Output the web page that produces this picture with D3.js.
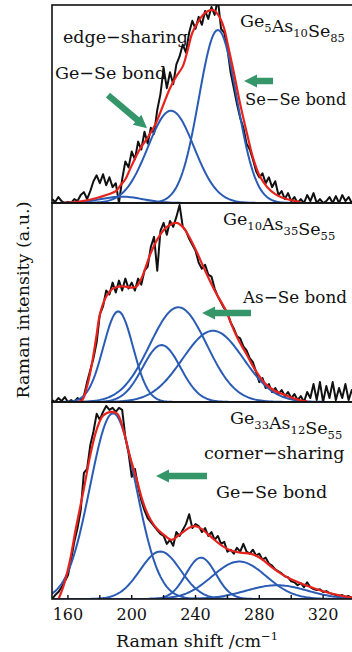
<!DOCTYPE html>
<html><head><meta charset="utf-8">
<script src="https://cdn.jsdelivr.net/npm/d3@7"></script>
<style>
body{margin:0;background:#fff;}
svg{display:block;}
text{font-family:"DejaVu Serif",serif;fill:#111;}
</style>
</head><body>
<svg id="c" width="352" height="652"></svg>
<script>
// ---------- DATA ----------
const shift = d3.range(150, 341, 2); // Raman shift sampling (cm-1)

const raw1 = [0.02,0.005,0.03,0.01,0.0,0.005,0.0,0.02,0.01,0.04,0.055,0.02,0.06,0.11,0.14,0.10,0.145,0.09,0.13,0.08,0.10,0.0,0.12,0.21,0.18,0.26,0.22,0.31,0.27,0.36,0.30,0.38,0.35,0.47,0.55,0.68,0.58,0.66,0.60,0.70,0.74,0.80,0.76,0.86,0.92,0.88,0.94,0.90,0.97,0.93,0.99,0.95,1.03,0.88,0.86,0.78,0.66,0.58,0.50,0.43,0.38,0.30,0.27,0.22,0.16,0.13,0.15,0.10,0.13,0.08,0.11,0.04,0.06,0.02,0.05,0.01,0.03,0.0,0.02,0.0,0.04,0.01,0.05,0.0,0.02,0.0,0.01,0.03,0.0,0.035,0.0,0.04,0.01,0.03,0.0,0.02];
const raw2 = [0.01,0.0,0.02,0.005,0.025,0.0,0.01,0.0,0.02,0.01,0.03,0.10,0.16,0.22,0.30,0.44,0.48,0.56,0.54,0.60,0.55,0.61,0.56,0.62,0.57,0.60,0.56,0.62,0.59,0.66,0.68,0.78,0.83,0.66,0.86,0.90,0.84,0.91,0.88,0.93,0.99,0.88,0.86,0.82,0.79,0.76,0.70,0.67,0.69,0.64,0.63,0.57,0.53,0.50,0.47,0.45,0.40,0.37,0.33,0.32,0.28,0.26,0.22,0.20,0.15,0.10,0.12,0.07,0.09,0.05,0.07,0.04,0.06,0.03,0.05,0.02,0.04,0.01,0.03,0.0,0.05,0.02,0.09,0.01,0.10,0.0,0.08,0.02,0.10,0.01,0.07,0.02,0.09,0.01,0.06,0.02];
const raw3 = [0.0,0.02,0.035,0.06,0.09,0.12,0.20,0.29,0.36,0.45,0.64,0.66,0.78,0.85,0.94,0.91,0.95,0.98,0.96,0.97,0.95,0.97,0.96,0.82,0.74,0.62,0.66,0.57,0.50,0.45,0.41,0.39,0.37,0.35,0.33,0.32,0.28,0.30,0.27,0.34,0.32,0.35,0.38,0.43,0.36,0.38,0.37,0.34,0.36,0.32,0.34,0.30,0.32,0.28,0.29,0.24,0.25,0.23,0.26,0.24,0.28,0.24,0.23,0.25,0.22,0.23,0.20,0.21,0.18,0.17,0.15,0.14,0.13,0.115,0.11,0.09,0.085,0.07,0.08,0.06,0.085,0.06,0.05,0.045,0.05,0.035,0.04,0.03,0.025,0.02,0.015,0.02,0.01,0.015,0.005,0.01];

const fit1 = [[155,0],[165,0.005],[173,0.015],[180,0.03],[186,0.045],[190,0.06],[193,0.09],[196,0.12],[200,0.19],[205,0.27],[210,0.33],[215,0.40],[220,0.50],[224,0.58],[228,0.64],[232,0.69],[235,0.77],[238,0.86],[242,0.92],[246,0.96],[251,0.975],[255,0.94],[258,0.88],[260,0.81],[264,0.66],[268,0.50],[272,0.36],[276,0.23],[280,0.14],[285,0.08],[290,0.045],[295,0.025],[301,0.012],[306,0.004]];
const fit2 = [[166,0],[169,0.01],[172,0.08],[175,0.19],[178,0.34],[180,0.44],[184,0.53],[188,0.57],[192,0.58],[196,0.58],[200,0.575],[203,0.58],[206,0.62],[208,0.66],[212,0.75],[217,0.83],[222,0.88],[228,0.90],[232,0.88],[236,0.83],[241,0.75],[246,0.66],[252,0.56],[259,0.46],[263,0.38],[267,0.31],[272,0.24],[276,0.18],[280,0.13],[284,0.09],[290,0.055],[296,0.035],[301,0.02],[305,0.01],[310,0.003]];
const fit3 = [[153,-0.02],[157,0.06],[161,0.185],[165,0.36],[170,0.56],[174,0.73],[178,0.86],[182,0.93],[187,0.95],[191,0.94],[195,0.85],[199,0.72],[203,0.61],[206,0.52],[209,0.45],[212,0.40],[216,0.355],[221,0.32],[225,0.30],[229,0.32],[233,0.345],[237,0.365],[240,0.37],[244,0.355],[249,0.32],[255,0.28],[261,0.25],[268,0.235],[274,0.23],[278,0.22],[282,0.20],[288,0.16],[294,0.126],[300,0.10],[307,0.076],[313,0.058],[319,0.042],[325,0.028],[331,0.017],[336,0.01],[340,0.006]];

// fitted Gaussian components: centre (cm-1), height, FWHM (cm-1)
const peaks1 = [[193.7,0.032,31],[224.6,0.466,34],[254,0.874,28]];
const peaks2 = [[191.5,0.455,22],[218.7,0.286,28],[229.2,0.476,42],[251,0.358,45]];
const peaks3 = [[188.3,0.943,34],[217.9,0.241,30],[243.4,0.21,22],[267.4,0.19,40],[291,0.07,45]];

const xTickValues = [160,180,200,220,240,260,280,300,320,340];
const xTickLabels = [160,200,240,280,320];

// ---------- LAYOUT ----------
const svg = d3.select("#c");
const left = 52, right = 355;
const panelTops = [5, 203, 402], panelBots = [203, 402, 599];
const x = d3.scaleLinear().domain([150,340]).range([left,right]);
const BLACK="#111", BLUE="#2b5cb5", RED="#e8231e", GREEN="#35966a";
const FS = 17.5;

const panels = [
  {raw:raw1, fit:fit1, peaks:peaks1},
  {raw:raw2, fit:fit2, peaks:peaks2},
  {raw:raw3, fit:fit3, peaks:peaks3}
];
const gridX = d3.range(148, 343, 1);
const gauss = (p,v)=>p[1]*Math.exp(-4*Math.LN2*((v-p[0])/p[2])**2);

const ys = [];
panels.forEach((P,i)=>{
  const y = d3.scaleLinear().domain([0,1]).range([panelBots[i], panelTops[i]]);
  ys.push(y);
  const cid = "clip"+i;
  svg.append("clipPath").attr("id",cid).append("rect")
    .attr("x",left).attr("y",panelTops[i]).attr("width",right-left).attr("height",panelBots[i]-panelTops[i]);
  const g = svg.append("g").attr("clip-path",`url(#${cid})`);
  g.append("path").datum(shift.map((s,k)=>[s,P.raw[k]]))
    .attr("d", d3.line().x(d=>x(d[0])).y(d=>y(d[1])))
    .attr("fill","none").attr("stroke",BLACK).attr("stroke-width",2).attr("stroke-linejoin","round");
  P.peaks.forEach(p=>{
    g.append("path").datum(gridX.map(v=>[v,gauss(p,v)]))
      .attr("d", d3.line().x(d=>x(d[0])).y(d=>y(d[1]))).attr("fill","none").attr("stroke",BLUE).attr("stroke-width",2);
  });
  g.append("path").datum(P.fit)
    .attr("d", d3.line().x(d=>x(d[0])).y(d=>y(d[1])).curve(d3.curveCatmullRom)).attr("fill","none").attr("stroke",RED).attr("stroke-width",2.2);
  svg.append("rect").attr("x",left).attr("y",panelTops[i]).attr("width",right-left).attr("height",panelBots[i]-panelTops[i])
    .attr("fill","none").attr("stroke","#111").attr("stroke-width",1.6);
});

// bottom axis with inward ticks
const ax = svg.append("g").attr("transform",`translate(0,${panelBots[2]})`);
ax.selectAll("line").data(xTickValues).join("line")
  .attr("x1",d=>x(d)).attr("x2",d=>x(d)).attr("y1",0).attr("y2",-4).attr("stroke","#111").attr("stroke-width",1.4);
ax.selectAll("text").data(xTickLabels).join("text")
  .attr("x",d=>x(d)).attr("y",21).attr("text-anchor","middle").attr("font-size",16).text(d=>d);

// axis titles
const xt = svg.append("text").attr("x",197).attr("y",647).attr("text-anchor","middle").attr("font-size",FS);
xt.append("tspan").text("Raman shift /cm");
xt.append("tspan").attr("dy",-7).attr("font-size",11.5).text("−1");
svg.append("text").attr("transform","translate(29,300) rotate(-90)").attr("text-anchor","middle").attr("font-size",FS)
  .text("Raman intensity (a.u.)");

// compositions with subscripts
function formula(xp, yp, parts){
  const t = svg.append("text").attr("x",xp).attr("y",yp).attr("font-size",FS);
  parts.forEach(([el,n])=>{
    t.append("tspan").attr("dy",0).text(el);
    t.append("tspan").attr("dy",5).attr("font-size",11.5).text(n);
    t.append("tspan").attr("dy",-5).text("");
  });
}
formula(240, ys[0](0.89), [["Ge","5"],["As","10"],["Se","85"]]);
formula(223, ys[1](0.89), [["Ge","10"],["As","35"],["Se","55"]]);
formula(230, ys[2](0.89), [["Ge","33"],["As","12"],["Se","55"]]);

// annotation labels [panel, x px, height, text, font size]
const labels = [
  [0, 63, 0.81, "edge−sharing", FS],
  [0, 55, 0.625, "Ge−Se bond", FS],
  [0, 245, 0.495, "Se−Se bond", 16.3],
  [1, 243, 0.495, "As−Se bond", 16.8],
  [2, 204, 0.71, "corner−sharing", FS],
  [2, 216, 0.515, "Ge−Se bond", FS]
];
labels.forEach(([p,xp,h,t,fs])=>{
  svg.append("text").attr("x",xp).attr("y",ys[p](h)).attr("font-size",fs).text(t);
});

// green arrows [panel, tail shift, tail h, tip shift, tip h]
const arrows = [
  [0, 185.1, 0.545, 209.6, 0.378],
  [0, 288.6, 0.616, 270.4, 0.616],
  [1, 274.8, 0.447, 244.1, 0.447],
  [2, 247.2, 0.624, 215.2, 0.624]
];
arrows.forEach(([p,s0,h0,s1,h1])=>{
  const x0=x(s0), y0=ys[p](h0), x1=x(s1), y1=ys[p](h1);
  const dx=x1-x0, dy=y1-y0, L=Math.hypot(dx,dy), ux=dx/L, uy=dy/L, nx=-uy, ny=ux;
  const sw=3.2, hw=6.5, hl=13;
  const bx=x1-ux*hl, by=y1-uy*hl;
  const pts=[[x0+nx*sw,y0+ny*sw],[bx+nx*sw,by+ny*sw],[bx+nx*hw,by+ny*hw],[x1,y1],[bx-nx*hw,by-ny*hw],[bx-nx*sw,by-ny*sw],[x0-nx*sw,y0-ny*sw]];
  svg.append("polygon").attr("points",pts.map(q=>q.join(",")).join(" ")).attr("fill",GREEN);
});
</script>
</body></html>
